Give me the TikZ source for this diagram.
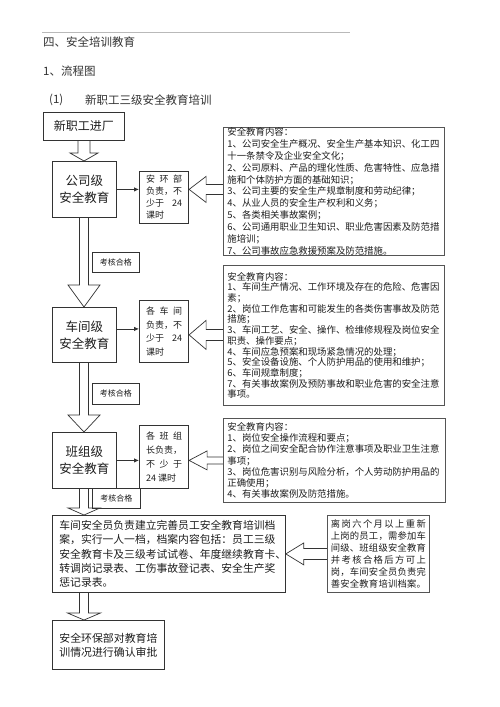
\documentclass[tikz,border=0pt]{standalone}
\usepackage{fontspec}
\setmainfont{Noto Sans CJK SC}
\usetikzlibrary{arrows.meta,calc,backgrounds}
\definecolor{ln}{HTML}{333333}
\definecolor{ln2}{HTML}{555555}
\definecolor{tx}{HTML}{1E1E1E}
\definecolor{hd}{HTML}{333333}
\def\mygobble#1{}
\def\sprd#1{\sprdA#1\relax}
\def\sprdA#1#2{#1\ifx\relax#2\expandafter\mygobble\else\hfill\expandafter\sprdA\fi#2}
\newcommand\jl[1]{\makebox[95pt][l]{\sprd{#1}}}
\newcommand\smline[1]{\makebox[36pt][l]{#1}}
\newcommand\vblock[5]{\draw[blk] let \p1=(#1.south), \p2=(#2.north), \p3=(col) in (\x3-#3,\y1) -- (\x3-#3,\y2+#5) -- (\x3-#4,\y2+#5) -- (\x3,\y2) -- (\x3+#4,\y2+#5) -- (\x3+#3,\y2+#5) -- (\x3+#3,\y1);}
\newcommand\hblock[6]{\draw[blk] let \p1=(#1.west), \p2=(#2.east), \p3=(#3) in (\x1,\y3+#4) -- (\x2+#6,\y3+#4) -- (\x2+#6,\y3+#5) -- (\x2,\y3) -- (\x2+#6,\y3-#5) -- (\x2+#6,\y3-#4) -- (\x1,\y3-#4);}
\begin{document}
\begin{tikzpicture}[x=1pt,y=-1pt,
  lbox/.style={draw=ln, line width=0.8pt, text=tx, inner sep=0pt, anchor=north west, align=center, font=\fontsize{12.5}{17}\selectfont},
  sbox/.style={draw=ln, line width=1.1pt, text=tx, inner sep=0pt, anchor=north west, align=center},
  cbox/.style={draw=ln2, line width=0.8pt, text=tx, inner xsep=4pt, inner ysep=0pt, anchor=north west, align=left, font=\fontsize{9.4}{11.9}\selectfont},
  kbox/.style={draw=ln, line width=0.8pt, text=tx, inner sep=0pt, anchor=north west, font=\fontsize{8}{9}\selectfont},
  hdr/.style={text=hd, inner sep=0pt, anchor=west, font=\fontsize{11.5}{13}\selectfont},
  blk/.style={draw=ln, fill=white, line width=0.7pt, line join=miter},
  sarr/.style={draw=ln, line width=0.8pt, -{Latex[length=5pt,width=4.5pt]}}]
\useasboundingbox (0,0) rectangle (500,707);
\coordinate (col) at (84,0);
% header
\draw[gray!55, line width=0.6pt] (42,32) -- (350,32);
\node[hdr] (h1) at (43,42) {四、安全培训教育};
\node[hdr] (h2) at (43,71) {1、流程图};
\node[hdr] (h3a) at (49,100) {(1)};
\node[hdr] (h3b) at (85,100) {新职工三级安全教育培训};
% left column
\node[lbox, minimum width=81pt, minimum height=28pt, font=\fontsize{12}{14}\selectfont] (entry) at (43,112) {新职工进厂};
\node[lbox, minimum width=64pt, minimum height=56pt] (gongsi) at (52,161) {公司级\\安全教育};
\node[lbox, minimum width=64pt, minimum height=55pt] (chejian) at (52,307) {车间级\\安全教育};
\node[lbox, minimum width=64pt, minimum height=56pt] (banzu) at (52,432) {班组级\\安全教育};
% small boxes
\node[sbox, minimum width=49pt, minimum height=52pt, font=\fontsize{9}{12}\selectfont] (anhuan) at (139,171) {\smline{安\hfill 环\hfill 部}\\ \smline{负责，不}\\ \smline{少于\hfill 24}\\ \smline{课时}};
\node[sbox, minimum width=49pt, minimum height=62pt, font=\fontsize{9}{13.7}\selectfont] (gechejian) at (139,300) {\smline{各\hfill 车\hfill 间}\\ \smline{负责，不}\\ \smline{少于\hfill 24}\\ \smline{课时}};
\node[sbox, minimum width=49pt, minimum height=63pt, font=\fontsize{9}{14}\selectfont] (gebanzu) at (139,425) {\smline{各\hfill 班\hfill 组}\\ \smline{长负责，}\\ \smline{不\hfill 少\hfill 于}\\ \smline{24 课时}};
% content boxes
\node[cbox, text width=213pt, minimum height=124pt] (c1) at (223,127) {安全教育内容：\\
1、公司安全生产概况、安全生产基本知识、化工四\\
十一条禁令及企业安全文化；\\
2、公司原料、产品的理化性质、危害特性、应急措\\
施和个体防护方面的基础知识；\\
3、公司主要的安全生产规章制度和劳动纪律；\\
4、从业人员的安全生产权利和义务；\\
5、各类相关事故案例；\\
6、公司通用职业卫生知识、职业危害因素及防范措\\
施培训；\\
7、公司事故应急救援预案及防范措施。};
\node[cbox, text width=213pt, minimum height=140pt, font=\fontsize{9.4}{10.7}\selectfont] (c2) at (223,265) {安全教育内容：\\
1、车间生产情况、工作环境及存在的危险、危害因\\
素；\\
2、岗位工作危害和可能发生的各类伤害事故及防范\\
措施；\\
3、车间工艺、安全、操作、检维修规程及岗位安全\\
职责、操作要点；\\
4、车间应急预案和现场紧急情况的处理；\\
5、安全设备设施、个人防护用品的使用和维护；\\
6、车间规章制度；\\
7、有关事故案例及预防事故和职业危害的安全注意\\
事项。};
\node[cbox, text width=214pt, minimum height=84pt, font=\fontsize{9.4}{11.1}\selectfont] (c3) at (223,418) {安全教育内容：\\
1、岗位安全操作流程和要点；\\
2、岗位之间安全配合协作注意事项及职业卫生注意\\
事项；\\
3、岗位危害识别与风险分析，个人劳动防护用品的\\
正确使用；\\
4、有关事故案例及防范措施。};
% labels
\node[kbox, minimum width=47pt, minimum height=20pt] (k1) at (92,252) {考核合格};
\node[kbox, minimum width=47pt, minimum height=21pt] (k2) at (92,383) {考核合格};
\node[kbox, minimum width=48pt, minimum height=20pt] (k3) at (92,488) {考核合格};
% bottom boxes
\node[cbox, draw=ln, inner xsep=7pt, text width=219pt, minimum height=77pt, font=\fontsize{10.8}{14.3}\selectfont] (record) at (52,515) {车间安全员负责建立完善员工安全教育培训档\\
案，实行一人一档，档案内容包括：员工三级\\
安全教育卡及三级考试试卷、年度继续教育卡、\\
转调岗记录表、工伤事故登记表、安全生产奖\\
惩记录表。};
\node[cbox, inner xsep=3.5pt, text width=95pt, minimum height=77pt, font=\fontsize{9.3}{12}\selectfont] (rejoin) at (327,515) {\jl{离岗六个月以上重新}\\
\jl{上岗的员工，需参加车}\\
\jl{间级、班组级安全教育}\\
\jl{并考核合格后方可上}\\
\jl{岗，车间安全员负责完}\\
\jl{善安全教育培训档案。}};
\node[lbox, minimum width=112pt, minimum height=49pt, font=\fontsize{10.9}{14}\selectfont] (approve) at (52,620) {安全环保部对教育培\\训情况进行确认审批};
% small connectors
\coordinate (cj) at ([yshift=6pt]chejian.east);
\draw[sarr] (gongsi.east) -- (gongsi.east -| anhuan.west);
\draw[sarr] (cj) -- (cj -| gechejian.west);
\draw[sarr] (banzu.east) -- (banzu.east -| gebanzu.west);
% block arrows
\begin{scope}[on background layer]
\fill[white] (0,0) rectangle (500,707);
\vblock{entry}{gongsi}{6pt}{14pt}{8pt}
\vblock{gongsi}{chejian}{4.5pt}{16pt}{22pt}
\vblock{chejian}{banzu}{4.5pt}{16pt}{17pt}
\vblock{banzu}{record}{4.5pt}{16pt}{7pt}
\vblock{record}{approve}{4.5pt}{16.5pt}{7pt}
\hblock{c1}{anhuan}{gongsi}{5pt}{13pt}{17pt}
\hblock{c2}{gechejian}{chejian}{5.5pt}{14.5pt}{17pt}
\hblock{c3}{gebanzu}{banzu}{3.5pt}{9.5pt}{18pt}
\hblock{rejoin}{record}{record}{5.5pt}{11pt}{18pt}
\end{scope}
\end{tikzpicture}
\end{document}
